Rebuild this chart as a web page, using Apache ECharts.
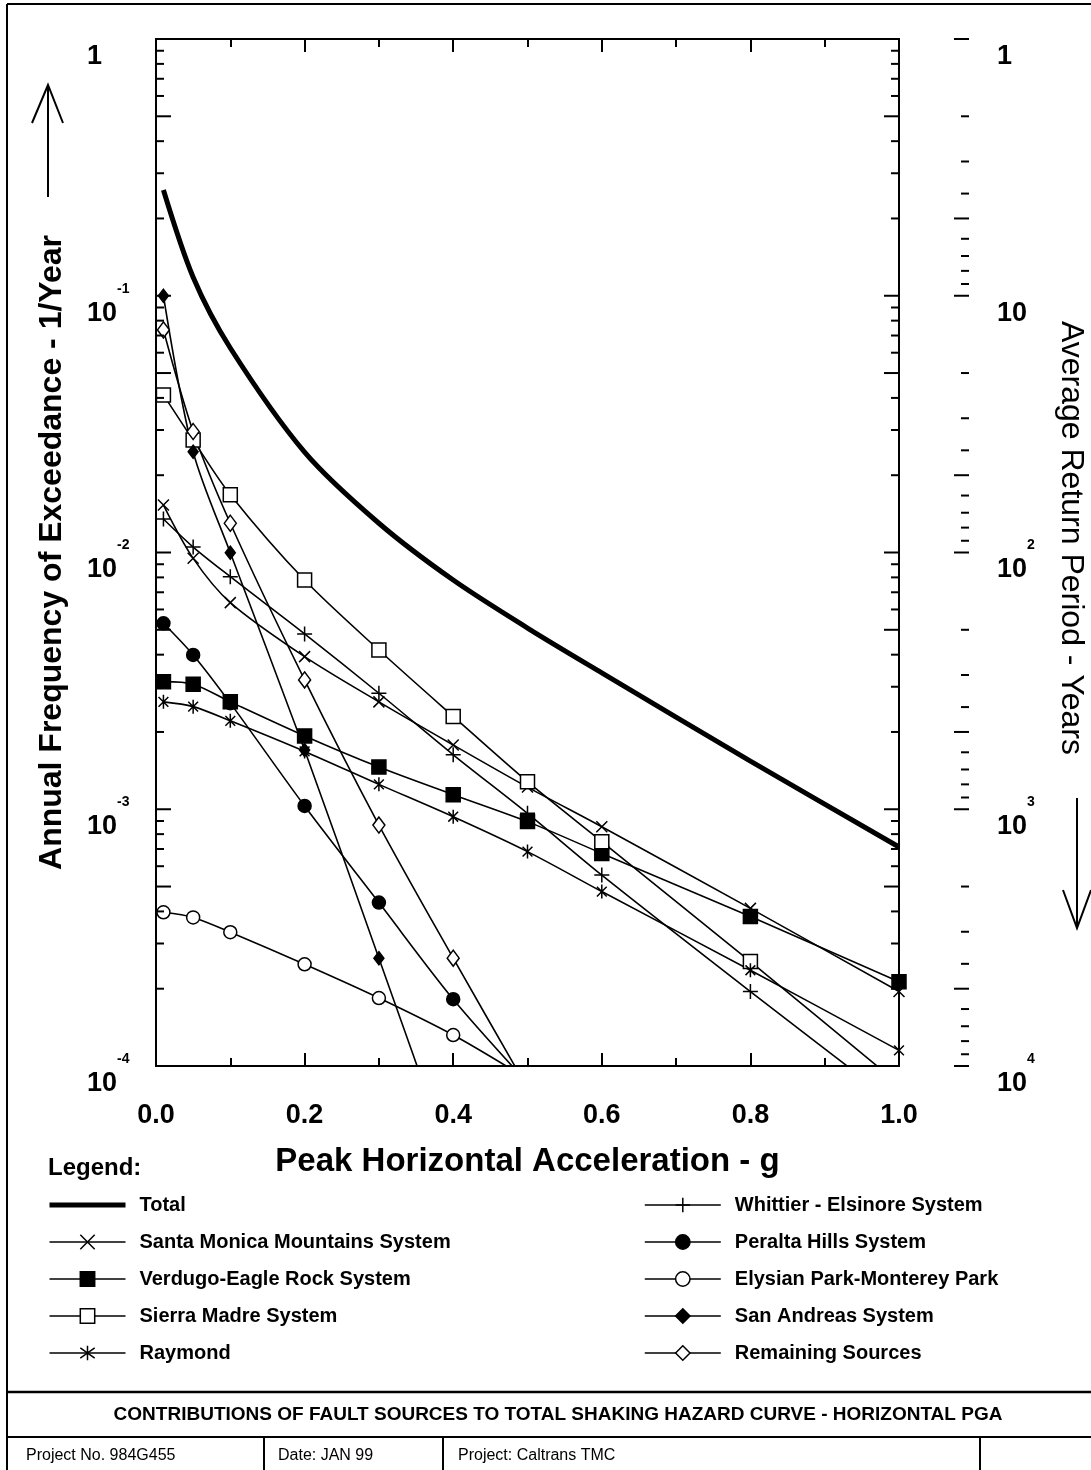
<!DOCTYPE html>
<html>
<head>
<meta charset="utf-8">
<script src="https://cdn.jsdelivr.net/npm/echarts@6/dist/echarts.min.js"></script>
<style>
  html, body { margin: 0; padding: 0; background: #fff; }
  #chart { width: 1091px; height: 1470px; }
</style>
</head>
<body>
<div id="chart"></div>
<script>
// peak horizontal acceleration (g) at which the curves were computed
const accel = [0.01, 0.05, 0.1, 0.2, 0.3, 0.4, 0.5, 0.6, 0.8, 1.0];

// annual frequency of exceedance (1/yr)
const total       = [0.258, 0.118, 0.0626, 0.0246, 0.0130, 0.00781, 0.00508, 0.00340, 0.00154, 0.000713];
const santaMonica = [0.0153, 0.00949, 0.00638, 0.00393, 0.00262, 0.00178, 0.00122, 0.000855, 0.000411, 0.000195];
const verdugo     = [0.00314, 0.00307, 0.00262, 0.00193, 0.00146, 0.00114, 0.000895, 0.000673, 0.000382, 0.000213];
const sierraMadre = [0.0411, 0.0274, 0.0168, 0.00781, 0.00417, 0.0023, 0.00128, 0.000748, 0.000255, 0.000085];
const raymond     = [0.00262, 0.00251, 0.00221, 0.00168, 0.00125, 0.000935, 0.000684, 0.000478, 0.000236, 0.000115];
const whittier    = [0.0135, 0.0105, 0.00805, 0.00482, 0.00283, 0.00163, 0.000964, 0.000554, 0.000195, 0.00007];
const peralta     = [0.0053, 0.00399, 0.00259, 0.00103, 0.000433, 0.000182, 0.000086];
const elysian     = [0.000397, 0.000379, 0.000332, 0.000249, 0.000184, 0.000132, 0.000089];
const sanAndreas  = [0.1, 0.0247, 0.00998, 0.0017, 0.000263, 0.00004];
const remaining   = [0.0736, 0.0296, 0.013, 0.00319, 0.000868, 0.000263, 0.000082];

// axis tick values
const xLabels = ['0.0', '0.2', '0.4', '0.6', '0.8', '1.0'];
const tickMantissas = [2, 3, 4, 5, 6, 7, 8, 9];
const freqDecades = [-3, -2, -1];         // 10^k on the frequency axis
const periodDecades = [0, 1, 2, 3, 4];    // 10^k years on the return period axis

const FONT = '"Liberation Sans", Arial, sans-serif';
const RP_OFFSET = 70;

const CROSS = 'path://M0,0L10,10M10,0L0,10';
const PLUS = 'path://M5,0L5,10M0,5L10,5';
const STAR = 'path://M5,0L5,10M1.5,1.5L8.5,8.5M8.5,1.5L1.5,8.5';

const seriesDefs = [
  { name: 'Total', vals: total, symbol: 'none', width: 5 },
  { name: 'Santa Monica Mountains System', vals: santaMonica, symbol: CROSS, size: 11, fill: '#000' },
  { name: 'Verdugo-Eagle Rock System', vals: verdugo, symbol: 'rect', size: 14, fill: '#000' },
  { name: 'Sierra Madre System', vals: sierraMadre, symbol: 'rect', size: 14, fill: '#fff' },
  { name: 'Raymond', vals: raymond, symbol: STAR, size: 14, fill: '#000' },
  { name: 'Whittier - Elsinore System', vals: whittier, symbol: PLUS, size: 15, fill: '#000' },
  { name: 'Peralta Hills System', vals: peralta, symbol: 'circle', size: 13, fill: '#000' },
  { name: 'Elysian Park-Monterey Park', vals: elysian, symbol: 'circle', size: 13, fill: '#fff' },
  { name: 'San Andreas System', vals: sanAndreas, symbol: 'diamond', size: [10, 13], fill: '#000' },
  { name: 'Remaining Sources', vals: remaining, symbol: 'diamond', size: [12, 16], fill: '#fff' }
];

const lineSeries = seriesDefs.map(d => ({
  name: d.name,
  type: 'line',
  data: d.vals.map((v, i) => [accel[i], v]),
  smooth: 0.3,
  symbol: d.symbol,
  symbolSize: d.size,
  symbolKeepAspect: true,
  showSymbol: d.symbol !== 'none',
  lineStyle: { color: '#000', width: d.width || 1.6 },
  itemStyle: { color: d.fill || '#000', borderColor: '#000', borderWidth: 1.5 },
  emphasis: { disabled: true },
  clip: true,
  z: 3
}));

// minor/major tick marks of the log axes
const freqTicks = [];
for (let k = -4; k <= -1; k++) {
  tickMantissas.forEach(m => freqTicks.push([0, m * Math.pow(10, k), m === 5 ? 15 : 8]));
}
freqDecades.forEach(k => freqTicks.push([0, Math.pow(10, k), 15]));

const periodTicks = [];
for (let k = 0; k <= 3; k++) {
  tickMantissas.forEach(m => periodTicks.push([0, 1 / (m * Math.pow(10, k)), m === 5 ? 15 : 8]));
}
periodDecades.forEach(k => periodTicks.push([0, Math.pow(10, -k), 15]));

const tickStyle = { stroke: '#000', lineWidth: 2 };

const tickSeries = [
  {
    name: 'freqTicks', type: 'custom', data: freqTicks, encode: { x: 0, y: 1 }, silent: true, z: 4,
    renderItem: (params, api) => {
      const v = api.value(1), len = api.value(2);
      const a = api.coord([0, v]), b = api.coord([1, v]);
      return { type: 'group', children: [
        { type: 'line', shape: { x1: a[0], y1: a[1], x2: a[0] + len, y2: a[1] }, style: tickStyle },
        { type: 'line', shape: { x1: b[0], y1: b[1], x2: b[0] - len, y2: b[1] }, style: tickStyle }
      ]};
    }
  },
  {
    name: 'periodTicks', type: 'custom', data: periodTicks, encode: { x: 0, y: 1 }, silent: true, z: 4,
    renderItem: (params, api) => {
      const v = api.value(1), len = api.value(2);
      const b = api.coord([1, v]);
      const x = b[0] + RP_OFFSET;
      return { type: 'line', shape: { x1: x, y1: b[1], x2: x - len, y2: b[1] }, style: tickStyle };
    }
  }
];

// exponent labels: superscript on its own upper line, shifted right past the "10"
const richLabel = {
  sp: { width: 30, fontSize: 14, lineHeight: 35 },
  s: { fontSize: 14, fontWeight: 'bold', fontFamily: FONT, color: '#000', lineHeight: 35 },
  b: { fontSize: 27, fontWeight: 'bold', fontFamily: FONT, color: '#000', lineHeight: 14 }
};

function expLabel(e) {
  if (e === 0) return '{sp| }\n{b|1}';
  if (e === 1) return '{sp| }\n{b|10}';
  return '{sp| }{s|' + e + '}\n{b|10}';
}

const xAxisCommon = {
  type: 'value', min: 0, max: 1, interval: 0.2,
  axisLine: { show: true, lineStyle: { color: '#000', width: 2 } },
  axisTick: { show: true, inside: true, length: 13, lineStyle: { color: '#000', width: 2 } },
  minorTick: { show: true, splitNumber: 2, length: 8, lineStyle: { color: '#000', width: 2 } },
  splitLine: { show: false },
  nameMoveOverlap: false
};

const legendCommon = {
  orient: 'vertical', padding: 0, itemGap: 17, itemWidth: 76, itemHeight: 18,
  selectedMode: false,
  lineStyle: { width: 1.6, color: '#000' },
  itemStyle: { borderWidth: 1.5, borderColor: '#000' },
  textStyle: { fontSize: 20, fontWeight: 'bold', fontFamily: FONT, color: '#000', lineHeight: 20,
               padding: [0, 0, 0, 9] }
};

const leftNames = seriesDefs.slice(0, 5).map(d => d.name);
const rightNames = seriesDefs.slice(5).map(d => d.name);

const lineW = { stroke: '#000', lineWidth: 2 };

const option = {
  animation: false,
  backgroundColor: '#fff',
  grid: {
    left: 156, right: 192, top: 39, bottom: 404,
    show: true, borderColor: '#000', borderWidth: 2,
    containLabel: false, outerBoundsMode: 'none'
  },
  xAxis: [
    Object.assign({}, xAxisCommon, {
      position: 'bottom',
      name: 'Peak Horizontal Acceleration - g',
      nameLocation: 'middle', nameGap: 79,
      nameTextStyle: { fontSize: 33, fontWeight: 'bold', fontFamily: FONT, color: '#000' },
      axisLabel: {
        margin: 36, fontSize: 27, fontWeight: 'bold', fontFamily: FONT, color: '#000',
        formatter: v => xLabels[Math.round(v / 0.2)]
      }
    }),
    Object.assign({}, xAxisCommon, { position: 'top', axisLabel: { show: false } })
  ],
  yAxis: [
    {
      type: 'log', logBase: 10, min: 0.0001, max: 1, position: 'left',
      axisLine: { show: true, lineStyle: { color: '#000', width: 2 } },
      axisTick: { show: false },
      splitLine: { show: false },
      name: 'Annual Frequency of Exceedance - 1/Year',
      nameLocation: 'middle', nameRotate: 90, nameGap: 88, nameMoveOverlap: false,
      nameTextStyle: { fontSize: 32, fontWeight: 'bold', fontFamily: FONT, color: '#000' },
      axisLabel: {
        align: 'left', margin: 69, showMinLabel: true, showMaxLabel: true,
        formatter: v => expLabel(Math.round(Math.log10(v))),
        rich: richLabel
      }
    },
    {
      type: 'log', logBase: 10, min: 0.0001, max: 1, position: 'right', offset: RP_OFFSET,
      axisLine: { show: true, lineStyle: { color: '#000', width: 2 } },
      axisTick: { show: false },
      splitLine: { show: false },
      axisLabel: {
        align: 'left', margin: 28, showMinLabel: true, showMaxLabel: true,
        formatter: v => expLabel(-Math.round(Math.log10(v))),
        rich: richLabel
      }
    }
  ],
  legend: [
    Object.assign({}, legendCommon, {
      left: 47, top: 1195,
      data: leftNames.map(n => n === 'Total'
        ? { name: n, itemStyle: { opacity: 0 }, lineStyle: { width: 5 } }
        : { name: n })
    }),
    Object.assign({}, legendCommon, { left: 644, top: 1195, data: rightNames })
  ],
  graphic: [
    // frame
    { type: 'line', shape: { x1: 7, y1: 4, x2: 1091, y2: 4 }, style: lineW },
    { type: 'line', shape: { x1: 7, y1: 4, x2: 7, y2: 1470 }, style: lineW },
    { type: 'line', shape: { x1: 7, y1: 1392, x2: 1091, y2: 1392 }, style: { stroke: '#000', lineWidth: 2.5 } },
    { type: 'line', shape: { x1: 7, y1: 1437, x2: 1091, y2: 1437 }, style: lineW },
    { type: 'line', shape: { x1: 264, y1: 1437, x2: 264, y2: 1470 }, style: lineW },
    { type: 'line', shape: { x1: 443, y1: 1437, x2: 443, y2: 1470 }, style: lineW },
    { type: 'line', shape: { x1: 980, y1: 1437, x2: 980, y2: 1470 }, style: lineW },
    // arrows beside the axis titles
    { type: 'line', shape: { x1: 48, y1: 85, x2: 48, y2: 197 }, style: lineW },
    { type: 'polyline', shape: { points: [[32, 123], [48, 85], [63, 123]] }, style: { stroke: '#000', lineWidth: 2, fill: null } },
    { type: 'line', shape: { x1: 1077, y1: 798, x2: 1077, y2: 928 }, style: lineW },
    { type: 'polyline', shape: { points: [[1063, 890], [1077, 928], [1091, 890]] }, style: { stroke: '#000', lineWidth: 2, fill: null } },
    // right axis title, reading downwards
    { type: 'text', x: 1071, y: 538, rotation: -Math.PI / 2,
      style: { text: 'Average Return Period - Years', font: '32px ' + FONT, fill: '#000',
               align: 'center', verticalAlign: 'middle' } },
    // texts
    { type: 'text', left: 48, top: 1156,
      style: { text: 'Legend:', font: 'bold 24px ' + FONT, fill: '#000' } },
    { type: 'text', x: 558, y: 1415,
      style: { text: 'CONTRIBUTIONS OF FAULT SOURCES TO TOTAL SHAKING HAZARD CURVE - HORIZONTAL PGA',
               font: 'bold 19px ' + FONT, fill: '#000', align: 'center', verticalAlign: 'middle' } },
    { type: 'text', x: 26, y: 1456,
      style: { text: 'Project No. 984G455', font: '16px ' + FONT, fill: '#000', verticalAlign: 'middle' } },
    { type: 'text', x: 278, y: 1456,
      style: { text: 'Date: JAN 99', font: '16px ' + FONT, fill: '#000', verticalAlign: 'middle' } },
    { type: 'text', x: 458, y: 1456,
      style: { text: 'Project: Caltrans TMC', font: '16px ' + FONT, fill: '#000', verticalAlign: 'middle' } }
  ],
  series: lineSeries.concat(tickSeries)
};

const chart = echarts.init(document.getElementById('chart'), null, { renderer: 'canvas' });
chart.setOption(option);
</script>
</body>
</html>
